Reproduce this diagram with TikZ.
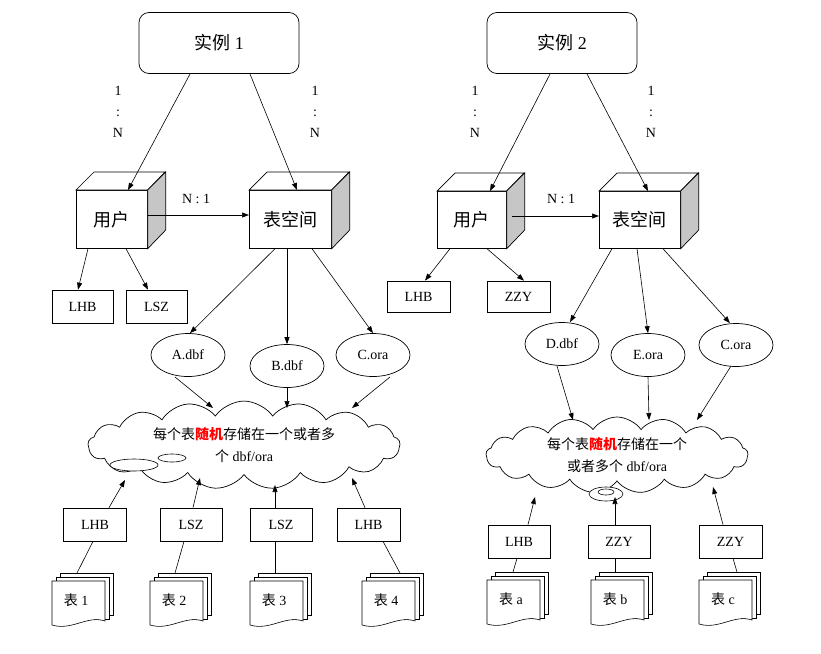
\documentclass[tikz,border=0pt]{standalone}
\usepackage{fontspec}
\setmainfont{Liberation Serif}
\newfontfamily\cjk{Noto Sans CJK SC}
\usetikzlibrary{shapes.symbols,shapes.geometric,arrows.meta,calc}
\tikzset{
  arr/.style={-{Triangle[length=7pt,width=5pt]},line width=0.6pt},
  ln/.style={line width=0.6pt},
  box/.style={draw,line width=0.7pt,minimum width=62pt,minimum height=33pt,inner sep=0pt,font=\fontsize{14}{14}\selectfont},
  ell/.style={draw,ellipse,line width=0.7pt,minimum width=74pt,minimum height=43pt,inner sep=0pt,font=\fontsize{14}{14}\selectfont},
  face/.style={draw,line width=0.7pt,fill=white,inner sep=0pt,font=\cjk\fontsize{18}{18}\selectfont},
  lbl/.style={font=\fontsize{14}{14}\selectfont,inner sep=0pt},
  inst/.style={draw,rounded corners=10pt,line width=0.7pt,minimum width=160pt,minimum height=61pt,font=\fontsize{18}{18}\selectfont},
  cl/.style={draw,cloud,cloud puffs=17,cloud puff arc=110,aspect=4,line width=0.7pt,inner sep=0pt,align=center,font=\fontsize{14}{22}\selectfont}
}
\newcommand\cube[6]{% name, x1,y1,x2,y2, text
  \node[face,minimum width={#4-#2},minimum height={#5-#3},anchor=north west] (#1) at (#2,#3) {#6};
  \draw[line width=0.7pt,fill=white] (#1.north west) -- ++(18,-18) -- ++({#4-#2},0) -- ($(#1.north east)$) -- cycle;
  \draw[line width=0.7pt,fill=gray!45] (#1.north east) -- ++(18,-18) -- ++(0,{#5-#3}) -- (#1.south east) -- cycle;
}
\newcommand\dstack[4]{% name, x, y (front top-left), label
  \foreach \o in {8,4}{
    \draw[line width=0.6pt,fill=white] (#2+\o,#3-\o) -- (#2+\o+53,#3-\o) -- (#2+\o+53,#3-\o+42) -- (#2+\o,#3-\o+42) -- cycle;}
  \draw[line width=0.6pt,fill=white] (#2,#3) -- (#2+53,#3) -- (#2+53,#3+40) .. controls (#2+35,#3+34) and (#2+20,#3+50) .. (#2,#3+44) -- cycle;
  \node[lbl,font=\fontsize{14}{14}\selectfont] (#1) at (#2+24,#3+19) {#4};
}
\begin{document}
\begin{tikzpicture}[x=1pt,y=-1pt]
\useasboundingbox (0,0) rectangle (821,653);
% ===== left =====
\node[inst] (i1) at (219,43) {{\cjk 实例} 1};
\cube{u1}{76}{190}{147}{248}{用户}
\cube{t1}{249}{190}{331}{248}{表空间}
\coordinate (i1a) at (190,74); \coordinate (i1b) at (250,74);
\draw[arr] (i1a) -- (u1.north -| 128,0);
\draw[arr] (i1b) -- (t1.north -| 297,0);
\node[lbl,align=center,font=\fontsize{14}{21}\selectfont] (r1) at (118,112) {1\\:\\N};
\node[lbl,align=center,font=\fontsize{14}{21}\selectfont] (r2) at (315,112) {1\\:\\N};
\draw[arr] (u1.east |- 0,215) -- (t1.west |- 0,215);
\node[lbl] (n1) at (196,199) {N : 1};
\node[box,minimum width=61pt] (lhb1) at (82.5,306.5) {LHB};
\node[box,minimum width=61pt] (lsz1) at (156.5,306.5) {LSZ};
\draw[arr] (u1.south -| 88,0) -- (lhb1.north -| 78,0);
\draw[arr] (u1.south -| 126,0) -- (lsz1.north -| 148,0);
\node[ell] (a) at (188,355) {A.dbf};
\node[ell] (b) at (287,366) {B.dbf};
\node[ell] (c1) at (373,355) {C.ora};
\draw[arr] (t1.south -| 275,0) -- (a.north -| 190,0);
\draw[arr] (t1.south -| 287,0) -- (b.north);
\draw[arr] (t1.south -| 312,0) -- (c1.north -| 373,0);
\node[cl,minimum width=312pt,minimum height=74pt] (cloud1) at (244,445) {{\cjk 每个表\textcolor{red}{\textbf{随机}}存储在一个或者多}\\{\cjk 个} dbf/ora};
\draw[line width=0.6pt,fill=white] (134,465) ellipse (24 and 6);
\draw[line width=0.6pt,fill=white] (172,458) ellipse (14 and 4);
\coordinate (ca) at (213,408); \coordinate (cb) at (287,408); \coordinate (cc) at (352,408);
\draw[arr] (175,377) -- (ca);
\draw[arr] (b.south) -- (cb);
\draw[arr] (390,377) -- (cc);
\node[box,minimum width=63pt] (bx1) at (95,524.5) {LHB};
\node[box,minimum width=62pt] (bx2) at (191,524.5) {LSZ};
\node[box,minimum width=62pt] (bx3) at (281,524.5) {LSZ};
\node[box,minimum width=63pt] (bx4) at (368.5,524.5) {LHB};
\dstack{d1}{52}{581}{{\cjk 表} 1}
\dstack{d2}{150}{581}{{\cjk 表} 2}
\dstack{d3}{250}{581}{{\cjk 表} 3}
\dstack{d4}{362}{581}{{\cjk 表} 4}
\coordinate (e1) at (125,480); \coordinate (e2) at (200,478);
\coordinate (e3) at (275,485); \coordinate (e4) at (352,478);
\draw[ln] (77,573) -- (bx1.south -| 93,0); \draw[arr] (bx1.north -| 109,0) -- (e1);
\draw[ln] (175,573) -- (bx2.south -| 184,0); \draw[arr] (bx2.north -| 193,0) -- (e2);
\draw[ln] (275,573) -- (bx3.south -| 275,0); \draw[arr] (bx3.north -| 275,0) -- (e3);
\draw[ln] (400,573) -- (bx4.south -| 383,0); \draw[arr] (bx4.north -| 365,0) -- (e4);
% ===== right =====
\node[inst,minimum width=150pt] (i2) at (562,43) {{\cjk 实例} 2};
\cube{u2}{437}{191}{506}{248}{用户}
\cube{t2}{599}{191}{680}{248}{表空间}
\coordinate (i2a) at (550,74); \coordinate (i2b) at (587,74);
\draw[arr] (i2a) -- (u2.north -| 490,0);
\draw[arr] (i2b) -- (t2.north -| 648,0);
\node[lbl,align=center,font=\fontsize{14}{21}\selectfont] (r3) at (475,112) {1\\:\\N};
\node[lbl,align=center,font=\fontsize{14}{21}\selectfont] (r4) at (651,112) {1\\:\\N};
\draw[arr] (512,216) -- (t2.west |- 0,216);
\node[lbl] (n2) at (561,199) {N : 1};
\node[box,minimum width=63pt,minimum height=31pt] (lhb2) at (418.5,296.5) {LHB};
\node[box,minimum width=63pt,minimum height=31pt] (zzy2) at (518.5,296.5) {ZZY};
\draw[arr] (u2.south -| 450,0) -- (lhb2.north -| 425,0);
\draw[arr] (u2.south -| 487,0) -- (zzy2.north -| 524,0);
\node[ell] (d) at (562,344) {D.dbf};
\node[ell] (e) at (648,355) {E.ora};
\node[ell] (c2) at (736,345) {C.ora};
\draw[arr] (t2.south -| 612,0) -- (d.north -| 570,0);
\draw[arr] (t2.south -| 637,0) -- (e.north);
\draw[arr] (t2.south -| 663,0) -- (c2.north -| 730,0);
\node[cl,minimum width=262pt,minimum height=76pt] (cloud2) at (617,455) {{\cjk 每个表\textcolor{red}{\textbf{随机}}存储在一个}\\{\cjk 或者多个} dbf/ora};
\draw[line width=0.6pt,fill=white] (606,494) ellipse (17 and 7);
\draw[line width=0.6pt,fill=white] (606,492) ellipse (8 and 3);
\coordinate (cd) at (573,420); \coordinate (ce) at (649,420); \coordinate (cf) at (697,420);
\draw[arr] (557,366) -- (cd);
\draw[arr] (e.south) -- (ce);
\draw[arr] (731,366) -- (cf);
\node[box,minimum width=62pt] (bx5) at (519,541.5) {LHB};
\node[box,minimum width=62pt] (bx6) at (619,541.5) {ZZY};
\node[box,minimum width=63pt] (bx7) at (730.5,541.5) {ZZY};
\dstack{d5}{487}{580}{{\cjk 表} a}
\dstack{d6}{591}{580}{{\cjk 表} b}
\dstack{d7}{699}{580}{{\cjk 表} c}
\coordinate (f1) at (535,497); \coordinate (f2) at (615,497); \coordinate (f3) at (713,487);
\draw[ln] (513,572) -- (bx5.south -| 517,0); \draw[arr] (bx5.north -| 528,0) -- (f1);
\draw[ln] (615,572) -- (bx6.south -| 615,0); \draw[arr] (bx6.north -| 615,0) -- (f2);
\draw[ln] (737,572) -- (bx7.south -| 733,0); \draw[arr] (bx7.north -| 723,0) -- (f3);
\end{tikzpicture}
\end{document}
